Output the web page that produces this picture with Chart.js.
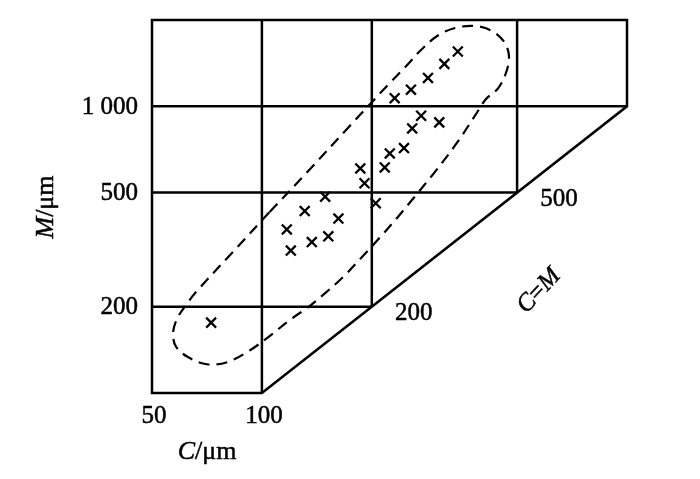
<!DOCTYPE html>
<html>
<head>
<meta charset="utf-8">
<script src="https://cdn.jsdelivr.net/npm/chart.js@4.4.1/dist/chart.umd.min.js"></script>
<style>
  body { margin: 0; background: #fff; }
  #wrap { width: 700px; height: 479px; }
</style>
</head>
<body>
<div id="wrap"><canvas id="chart" width="700" height="479"></canvas></div>
<script>
// measured samples (C and M in micrometres)
const cValues = [72.6, 117, 120, 131, 137, 149, 152, 162, 186, 191, 205, 217, 224, 245, 258, 273, 306, 231, 256, 285, 316, 344];
const mValues = [176, 372, 314, 431, 336, 484, 352, 406, 607, 539, 459, 612, 685, 715, 837, 927, 879, 1067, 1143, 1256, 1406, 1553];

// dashed envelope around the samples (closed loop)
const envC = [105, 135.5, 174, 224, 250, 271, 302, 338, 383.5, 427, 461, 475, 467, 444, 411, 386, 342, 296, 259, 234.5, 211, 188, 167, 149, 133, 119.4, 105, 92.8, 80.3, 70.7, 62.7, 58.2, 57.1, 58.5, 62, 66.4, 81.8, 105];
const envM = [428, 604, 854, 1206, 1393, 1559, 1759, 1876, 1906, 1831, 1676, 1498, 1317, 1158, 1060, 940, 745, 585, 475, 408, 350, 298, 254, 223, 198, 180, 158, 141, 128, 126, 133.5, 145, 161, 181, 203, 227, 303, 428];

// axis limits, grid and tick labels
const cRange = [50, 1000];
const mRange = [100, 2000];
const xGrid = [100, 200, 500];
const yGrid = [200, 500, 1000];
const yTicks = [1000, 500, 200];
const yTickLabels = ['1 000', '500', '200'];
const xTicks = [50, 100];
const xTickLabels = ['50', '100'];
const diagTicks = [200, 500];
const diagTickLabels = ['200', '500'];

const serif = '"Liberation Serif", "Times New Roman", serif';

function toPoints(xs, ys) {
    return xs.map((v, i) => ({ x: v, y: ys[i] }));
}

// the scan is a bit heavier than the font, so fill plus a thin stroke
function ink(ctx, text, x, y) {
    ctx.fillText(text, x, y);
    ctx.strokeText(text, x, y);
}

// text made of regular / italic pieces, centred on (cx, cy)
function drawMixed(ctx, parts, cx, cy, angle, size) {
    ctx.save();
    ctx.translate(cx, cy);
    ctx.rotate(angle);
    ctx.textBaseline = 'middle';
    ctx.textAlign = 'left';
    ctx.lineWidth = 0.5;
    let total = 0;
    parts.forEach(p => {
        ctx.font = (p[1] ? 'italic ' : '') + size + 'px ' + serif;
        total += ctx.measureText(p[0]).width;
    });
    let pos = -total / 2;
    parts.forEach(p => {
        ctx.font = (p[1] ? 'italic ' : '') + size + 'px ' + serif;
        ink(ctx, p[0], pos, 0);
        pos += ctx.measureText(p[0]).width;
    });
    ctx.restore();
}

// frame, partial grid and the C=M diagonal, all from the scales
const framePlugin = {
    id: 'frame',
    beforeDatasetsDraw(chart) {
        const { ctx, scales: { x, y } } = chart;
        const px = v => x.getPixelForValue(v);
        const py = v => y.getPixelForValue(v);
        ctx.save();
        ctx.strokeStyle = '#000';
        ctx.lineWidth = 2.5;

        ctx.beginPath();
        ctx.moveTo(px(cRange[0]), py(mRange[1]));
        ctx.lineTo(px(cRange[1]), py(mRange[1]));
        ctx.lineTo(px(cRange[1]), py(cRange[1]));
        ctx.lineTo(px(mRange[0]), py(mRange[0]));
        ctx.lineTo(px(cRange[0]), py(mRange[0]));
        ctx.closePath();
        ctx.stroke();

        ctx.beginPath();
        xGrid.forEach(v => {
            ctx.moveTo(px(v), py(mRange[1]));
            ctx.lineTo(px(v), py(Math.max(v, mRange[0])));
        });
        yGrid.forEach(v => {
            ctx.moveTo(px(cRange[0]), py(v));
            ctx.lineTo(px(v), py(v));
        });
        ctx.stroke();
        ctx.restore();
    },
    afterDraw(chart) {
        const { ctx, scales: { x, y } } = chart;
        const px = v => x.getPixelForValue(v);
        const py = v => y.getPixelForValue(v);
        ctx.save();
        ctx.fillStyle = '#000';
        ctx.strokeStyle = '#000';
        ctx.lineWidth = 0.5;
        ctx.font = '25px ' + serif;
        ctx.textBaseline = 'middle';

        ctx.textAlign = 'right';
        yTicks.forEach((v, i) => ink(ctx, yTickLabels[i], px(cRange[0]) - 14, py(v) + 1));

        ctx.textAlign = 'center';
        xTicks.forEach((v, i) => ink(ctx, xTickLabels[i], px(v) + 2, py(mRange[0]) + 23));
        diagTicks.forEach((v, i) => ink(ctx, diagTickLabels[i], px(v) + 42, py(v) + 7));
        ctx.restore();

        ctx.fillStyle = '#000';
        ctx.strokeStyle = '#000';
        drawMixed(ctx, [['M', true], ['/\u03bcm', false]], 46, 207, -Math.PI / 2, 26);
        drawMixed(ctx, [['C', true], ['/\u03bcm', false]], 207, 452, 0, 26);
        drawMixed(ctx, [['C', true], ['=', false], ['M', true]], 539, 291, -47 * Math.PI / 180, 25);
    }
};

new Chart(document.getElementById('chart'), {
    type: 'scatter',
    data: {
        datasets: [
            {
                label: 'samples',
                data: toPoints(cValues, mValues),
                pointStyle: 'crossRot',
                pointRadius: 7,
                pointBorderWidth: 2.3,
                borderColor: '#000',
                backgroundColor: '#000'
            },
            {
                label: 'envelope',
                data: toPoints(envC, envM),
                showLine: true,
                pointRadius: 0,
                borderColor: '#000',
                borderWidth: 2.2,
                borderDash: [11, 7],
                tension: 0.35,
                fill: false
            }
        ]
    },
    options: {
        responsive: false,
        animation: false,
        layout: { padding: { left: 152, right: 73, top: 20, bottom: 86 } },
        plugins: {
            legend: { display: false },
            tooltip: { enabled: false }
        },
        scales: {
            x: { type: 'logarithmic', min: cRange[0], max: cRange[1], display: false },
            y: { type: 'logarithmic', min: mRange[0], max: mRange[1], display: false }
        }
    },
    plugins: [framePlugin]
});
</script>
</body>
</html>
